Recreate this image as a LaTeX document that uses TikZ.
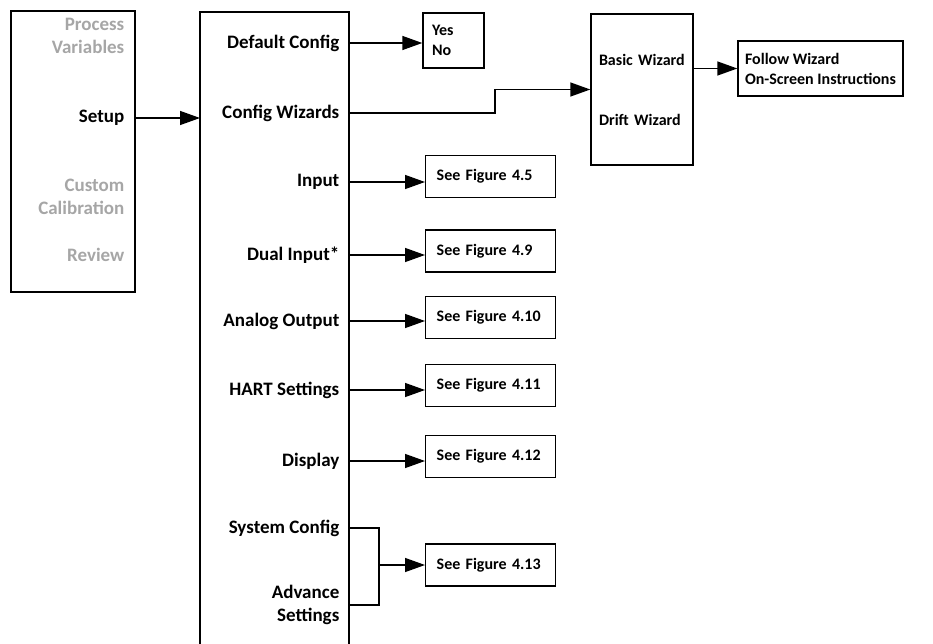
\documentclass[tikz,border=0pt]{standalone}
\usepackage{fontspec}
\setmainfont{Carlito}
\usetikzlibrary{arrows.meta}

\definecolor{dimgray}{RGB}{166,166,166}
\newcommand{\menufont}{\fontsize{19}{23}\selectfont\bfseries}
\newcommand{\subfont}{\fontsize{16}{20}\selectfont\bfseries}

\begin{document}
\begin{tikzpicture}[
    x=1pt, y=-1pt,
    >={Triangle[length=20pt,width=14pt]},
    line width=1.4pt,
    menu/.style={anchor=east, inner xsep=9pt, inner ysep=0pt, font=\menufont, align=right},
    dim/.style={menu, text=dimgray},
    figbox/.style={draw, anchor=west, font=\subfont, text width=108pt, inner xsep=11pt, minimum height=42pt, align=left}
]
\useasboundingbox (0,0) rectangle (933,644);

% left menu
\node[draw, minimum width=124pt, minimum height=281pt] (top) at (73,151.5) {};
\node[dim, inner xsep=10pt] (procvar) at (135,36) {Process\\Variables};
\node[menu, inner xsep=10pt] (setup) at (135,118) {Setup};
\node[dim, inner xsep=10pt] (custcal) at (135,197) {Custom\\Calibration};
\node[dim, inner xsep=10pt] (review) at (135,255) {Review};

% setup menu, open at the bottom
\coordinate (mainL) at (200,12);
\coordinate (mainR) at (349,12);
\draw (200,650) -- (mainL) -- (mainR) -- (349,650);

\node[menu] (dflt) at (349,43) {Default Config};
\node[menu] (cfgw) at (349,113) {Config Wizards};
\node[menu] (input) at (349,182) {Input};
\node[menu] (dual) at (349,255) {Dual Input*};
\node[menu] (aout) at (349,321) {Analog Output};
\node[menu] (hart) at (349,390) {HART Settings};
\node[menu] (disp) at (349,461) {Display};
\node[menu] (syscfg) at (349,528) {System Config};
\node[menu] (adv) at (349,605) {Advance\\Settings};

\draw[->] (setup.east) -- (setup.east -| mainL);

% answers
\node[draw, font=\subfont, align=left, text width=43pt, inner xsep=9pt, minimum height=55pt] (yesno) at (453.5,40.5) {Yes\\No};
\node[draw, font=\subfont, align=left, text width=86pt, inner xsep=8pt, minimum height=151pt] (wiz) at (642,89.5) {Basic Wizard\\[40pt]Drift Wizard};
\node[draw, font=\subfont, align=left, minimum width=165pt, minimum height=55pt] (follow) at (820.5,68.5) {Follow Wizard\\On-Screen Instructions};

\node[figbox] (fig5) at (425,176.5) {See Figure 4.5};
\node[figbox] (fig9) at (425,251) {See Figure 4.9};
\node[figbox] (fig10) at (425,317.5) {See Figure 4.10};
\node[figbox] (fig11) at (425,385.5) {See Figure 4.11};
\node[figbox] (fig12) at (425,456.5) {See Figure 4.12};
\node[figbox] (fig13) at (425,565) {See Figure 4.13};

\coordinate (jog) at (495,0);
\coordinate (brk) at (379,565);

\draw[->] (dflt.east) -- (dflt.east -| yesno.west);
\draw[->] (cfgw.east) -- (cfgw.east -| jog) |- (wiz.west);
\draw[->] (wiz.east |- follow.west) -- (follow.west);
\draw[->] (input.east) -- (input.east -| fig5.west);
\draw[->] (dual.east) -- (dual.east -| fig9.west);
\draw[->] (aout.east) -- (aout.east -| fig10.west);
\draw[->] (hart.east) -- (hart.east -| fig11.west);
\draw[->] (disp.east) -- (disp.east -| fig12.west);
\draw (syscfg.east) -| (brk) |- (adv.east);
\draw[->] (brk) -- (fig13.west);

\end{tikzpicture}
\end{document}
